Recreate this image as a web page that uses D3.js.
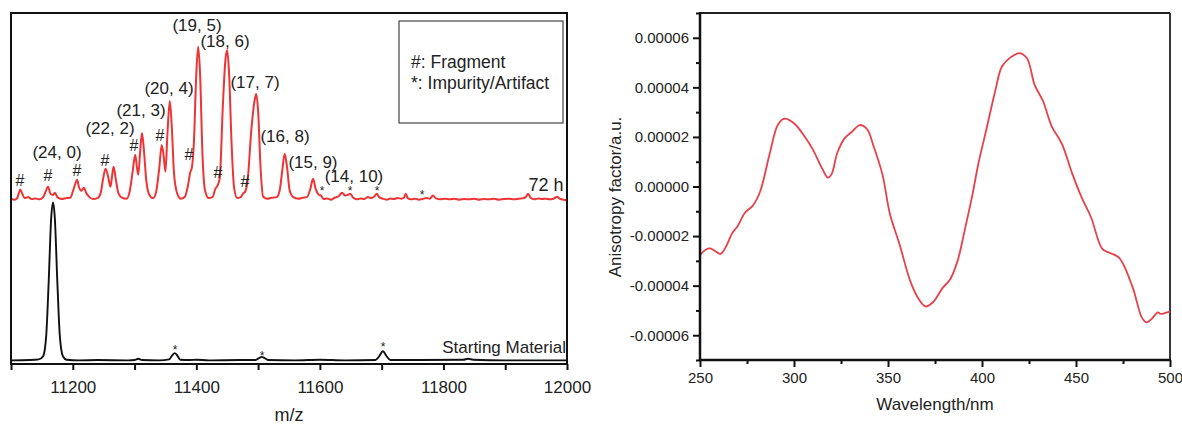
<!DOCTYPE html>
<html>
<head>
<meta charset="utf-8">
<script src="https://cdn.jsdelivr.net/npm/d3@7/dist/d3.min.js"></script>
<style>
  html, body { margin: 0; padding: 0; background: #fff; }
  svg { display: block; font-family: "Liberation Sans", Arial, sans-serif; }
</style>
</head>
<body>
<svg id="chart" width="1182" height="426"></svg>
<script>
// ---------------- DATA ----------------
// Left panel: mass spectra (m/z, relative intensity)
const mzMajorTicks = [11200, 11400, 11600, 11800, 12000];
const mzMinorTicks = [11100, 11300, 11500, 11700, 11900];

// 72 h spectrum (intensity above its own baseline)
const spectrum72h = [
  [11100,0.3],[11106,0.0],[11110,0.5],[11113,2.2],[11115,3.2],[11118,2.0],[11122,0.5],[11128,0.8],[11133,0.2],
  [11140,0.4],[11146,0.1],[11152,0.8],[11156,2.5],[11160,4.1],[11164,1.8],[11168,1.5],[11171,2.2],[11175,0.8],
  [11182,0.2],[11190,0.5],[11196,0.6],[11200,2.5],[11204,5.0],[11207,6.3],[11210,4.0],[11214,2.8],[11218,3.8],
  [11222,2.0],[11227,0.8],[11233,0.2],[11240,0.5],[11245,2.0],[11249,6.5],[11253,9.8],[11257,7.5],[11261,4.1],
  [11263,6.5],[11266,10.4],[11270,6.0],[11274,2.0],[11280,0.6],[11287,0.3],[11292,2.5],[11297,9.0],[11301,14.2],
  [11304,10.0],[11306,7.9],[11309,15.0],[11312,21.1],[11315,16.0],[11319,6.0],[11324,1.5],[11330,0.5],[11335,2.5],
  [11340,10.0],[11344,17.3],[11347,14.0],[11350,8.8],[11353,20.0],[11357,31.2],[11360,24.0],[11364,8.0],[11369,2.0],
  [11375,0.3],[11381,0.8],[11386,4.0],[11390,8.5],[11393,10.4],[11396,18.0],[11400,40.0],[11403,48.3],[11406,40.0],
  [11410,14.0],[11414,3.0],[11420,0.5],[11426,0.8],[11431,3.5],[11435,4.7],[11438,7.0],[11443,30.0],[11447,44.0],
  [11450,47.3],[11453,40.0],[11457,18.0],[11461,4.0],[11466,0.5],[11472,0.8],[11476,2.0],[11479,2.5],[11483,6.0],
  [11489,22.0],[11494,31.0],[11497,33.4],[11500,28.0],[11504,10.0],[11508,1.0],[11515,0.3],[11522,0.6],[11530,0.8],
  [11535,3.0],[11539,9.0],[11543,14.5],[11547,10.0],[11551,3.0],[11557,0.8],[11565,0.3],[11572,0.6],[11579,0.8],
  [11584,3.0],[11589,6.6],[11593,3.5],[11598,1.6],[11602,1.2],[11606,0.2],[11612,0.4],[11618,0.0],[11624,0.6],
  [11630,1.0],[11636,2.2],[11641,1.3],[11645,1.5],[11649,1.9],[11654,0.6],[11660,0.1],[11666,0.4],[11672,0.2],
  [11678,0.8],[11683,0.5],[11688,1.0],[11692,1.9],[11696,0.8],[11702,0.3],[11708,0.0],[11714,0.4],[11720,0.2],
  [11726,0.5],[11732,0.3],[11736,0.6],[11739,1.9],[11742,0.5],[11748,0.1],[11754,0.3],[11760,0.0],[11766,0.2],
  [11772,0.5],[11778,0.3],[11783,1.3],[11788,0.4],[11795,0.1],[11802,0.3],[11810,0.1],[11818,0.3],[11826,0.0],
  [11834,0.2],[11842,0.1],[11850,0.3],[11858,0.0],[11866,0.2],[11874,0.1],[11882,0.3],[11890,0.0],[11898,0.2],
  [11906,0.3],[11914,0.1],[11922,0.3],[11928,0.4],[11934,1.0],[11937,1.9],[11941,0.6],[11947,0.1],[11954,0.4],
  [11960,0.2],[11966,0.3],[11972,0.1],[11978,0.3],[11984,0.9],[11988,0.3],[11994,0.0],[12000,-0.2]
];
const offset72h = 51;

// Starting material spectrum
const spectrumStart = [
  [11100,0.2],[11130,0.3],[11145,0.5],[11152,1.5],[11157,8],[11161,25],[11165,45],[11168,50.1],[11171,45],
  [11175,25],[11179,8],[11184,1.5],[11190,0.4],[11210,0.2],[11240,0.3],[11290,0.2],[11300,0.3],[11306,0.7],
  [11312,0.3],[11340,0.2],[11356,0.5],[11361,1.8],[11365,2.5],[11369,1.8],[11374,0.4],[11390,0.3],[11400,0.4],
  [11420,0.2],[11470,0.3],[11496,0.3],[11502,1.0],[11506,1.3],[11510,1.0],[11516,0.3],[11560,0.2],[11600,0.4],
  [11640,0.2],[11690,0.3],[11696,1.5],[11702,3.1],[11708,1.5],[11714,0.3],[11760,0.3],[11832,0.4],[11840,0.7],
  [11848,0.4],[11900,0.2],[12000,0.2]
];

// Peak annotations (text, m/z, intensity where the label sits)
const peakLabels = [
  ["(24, 0)",11174.5,66.1],["(22, 2)",11260.3,73.7],["(21, 3)",11310.4,79.3],["(20, 4)",11355.8,86.3],
  ["(19, 5)",11401.1,106.2],["(18, 6)",11446.4,101.2],["(17, 7)",11495.0,88.2],["(16, 8)",11543.5,71.1],
  ["(15, 9)",11588.8,62.9],["(14, 10)",11655.2,58.6]
];
const fragmentMarks = [
  [11114.6,57.2],[11159.9,58.8],[11206.8,60.4],[11252.2,63.5],[11299.1,68.3],[11341.2,71.4],
  [11388.1,65.4],[11435.1,59.7],[11478.8,56.9]
];
const impurityMarks = [
  [11603.4,54.7],[11648.7,54.6],[11692.4,54.6],[11765.3,53.4],
  [11365.5,4.4],[11506.3,2.5],[11702.2,5.4]
];
const legendLines = ["#: Fragment", "*: Impurity/Artifact"];

// Right panel: anisotropy factor vs wavelength
const wlMajorTicks = [250, 300, 350, 400, 450, 500];
const wlMinorTicks = [275, 325, 375, 425, 475];
const gMajorTicks = [-6e-5, -4e-5, -2e-5, 0, 2e-5, 4e-5, 6e-5];
const gMinorTicks = [-7e-5, -5e-5, -3e-5, -1e-5, 1e-5, 3e-5, 5e-5, 7e-5];
const wavelength = [250,253,255.5,258,261,264,267,270,274,278,282,287,291.5,295,300,306,310,315,318,320,323,327,331,335,339,342,347,351,356,362,366,370,374,379,383,387,391,395,398,402.5,407,410.6,415,420,424,428,432.5,437,442.5,448,453,458,464,468,473,480,485,487.5,490,493.5,495,497.5,500];
const anisotropy = [-2.76e-5,-2.55e-5,-2.5e-5,-2.6e-5,-2.72e-5,-2.4e-5,-1.9e-5,-1.6e-5,-1.05e-5,-0.78e-5,-0.2e-5,1.3e-5,2.5e-5,2.74e-5,2.55e-5,1.98e-5,1.5e-5,0.72e-5,0.36e-5,0.5e-5,1.35e-5,1.95e-5,2.22e-5,2.48e-5,2.3e-5,1.7e-5,0.5e-5,-1.1e-5,-2.3e-5,-3.85e-5,-4.5e-5,-4.84e-5,-4.66e-5,-4.1e-5,-3.75e-5,-3.0e-5,-1.7e-5,-0.3e-5,0.9e-5,2.36e-5,3.84e-5,4.84e-5,5.2e-5,5.38e-5,5.16e-5,4.1e-5,3.44e-5,2.44e-5,1.72e-5,0.52e-5,-0.44e-5,-1.24e-5,-2.52e-5,-2.68e-5,-2.88e-5,-4.04e-5,-5.28e-5,-5.48e-5,-5.36e-5,-5.08e-5,-5.14e-5,-5.1e-5,-5.04e-5];

// ---------------- DRAW ----------------
const svg = d3.select("#chart");
const FONT = '"Liberation Sans", Arial, sans-serif';

// ===== Left panel =====
const xL = d3.scaleLinear().domain([11100, 12000]).range([11, 567]);
const yL = d3.scaleLinear().domain([0, 110]).range([361, 13]);
const left = svg.append("g");

const lineRed = d3.line().x(d => xL(d[0])).y(d => yL(d[1] + offset72h)).curve(d3.curveMonotoneX);
const lineBlack = d3.line().x(d => xL(d[0])).y(d => yL(d[1])).curve(d3.curveMonotoneX);

left.append("path").datum(spectrumStart).attr("d", lineBlack)
  .attr("fill", "none").attr("stroke", "#111").attr("stroke-width", 1.9);
left.append("path").datum(spectrum72h).attr("d", lineRed)
  .attr("fill", "none").attr("stroke", "#ee3434").attr("stroke-width", 2).attr("stroke-linejoin", "round");

// axis ticks
const axL = left.append("g").attr("transform", "translate(0,364)")
  .call(d3.axisBottom(xL).tickValues(mzMajorTicks).tickSize(6).tickPadding(11).tickFormat(d3.format("d")));
axL.select(".domain").remove();
axL.selectAll("line").attr("stroke", "#111").attr("stroke-width", 2);
axL.selectAll("text").attr("font-size", 17).attr("font-family", FONT).attr("fill", "#222");
const axLm = left.append("g").attr("transform", "translate(0,364)")
  .call(d3.axisBottom(xL).tickValues(mzMinorTicks).tickSize(6).tickFormat(""));
axLm.select(".domain").remove();
axLm.selectAll("line").attr("stroke", "#111").attr("stroke-width", 2);

// frame
left.append("rect").attr("x", xL(11100)).attr("y", 13)
  .attr("width", xL(12000) - xL(11100)).attr("height", 364 - 13)
  .attr("fill", "none").attr("stroke", "#111").attr("stroke-width", 2);

// labels
left.selectAll("text.peak").data(peakLabels).enter().append("text")
  .attr("x", d => xL(d[1])).attr("y", d => yL(d[2])).attr("dy", "0.35em")
  .attr("text-anchor", "middle").attr("font-size", 17).attr("fill", "#222").text(d => d[0]);
left.selectAll("text.frag").data(fragmentMarks).enter().append("text")
  .attr("x", d => xL(d[0])).attr("y", d => yL(d[1])).attr("dy", "0.36em")
  .attr("text-anchor", "middle").attr("font-size", 16).attr("fill", "#222").text("#");
left.selectAll("text.imp").data(impurityMarks).enter().append("text")
  .attr("x", d => xL(d[0])).attr("y", d => yL(d[1])).attr("dy", "0.6em")
  .attr("text-anchor", "middle").attr("font-size", 12).attr("fill", "#222").text("*");

left.append("text").attr("x", xL(11966)).attr("y", yL(55.6)).attr("dy", "0.35em")
  .attr("text-anchor", "middle").attr("font-size", 18).attr("fill", "#222").text("72 h");
left.append("text").attr("x", 566).attr("y", yL(4.4)).attr("dy", "0.35em")
  .attr("text-anchor", "end").attr("font-size", 17).attr("fill", "#222").text("Starting Material");

left.append("text").attr("x", 289).attr("y", 415).attr("dy", "0.35em")
  .attr("text-anchor", "middle").attr("font-size", 18).attr("fill", "#222").text("m/z");

// legend
left.append("rect").attr("x", 399).attr("y", 21).attr("width", 164).attr("height", 102)
  .attr("fill", "#fff").attr("stroke", "#444").attr("stroke-width", 1.2);
left.selectAll("text.leg").data(legendLines).enter().append("text")
  .attr("x", 411).attr("y", (d, i) => 62 + i * 21).attr("dy", "0.35em")
  .attr("font-size", 17.5).attr("fill", "#222").text(d => d);

// ===== Right panel =====
const xR = d3.scaleLinear().domain([250, 500]).range([700, 1170]);
const yR = d3.scaleLinear().domain([-7e-5, 7e-5]).range([360, 13]);
const right = svg.append("g");

// top & right borders
right.append("line").attr("x1", 700).attr("x2", 1170).attr("y1", 13).attr("y2", 13)
  .attr("stroke", "#222").attr("stroke-width", 1.8);
right.append("line").attr("x1", 1170).attr("x2", 1170).attr("y1", 13).attr("y2", 360)
  .attr("stroke", "#222").attr("stroke-width", 1.8);

const lineR = d3.line().x(d => xR(d[0])).y(d => yR(d[1])).curve(d3.curveCatmullRom.alpha(0.5));
right.append("path").datum(wavelength.map((w, i) => [w, anisotropy[i]])).attr("d", lineR)
  .attr("fill", "none").attr("stroke", "#e8414a").attr("stroke-width", 1.8);

const fmt = d => (Math.abs(d) < 1e-12 ? 0 : d).toFixed(5);
const axY = right.append("g").attr("transform", "translate(700,0)")
  .call(d3.axisLeft(yR).tickValues(gMajorTicks).tickSize(7).tickPadding(4).tickFormat(fmt));
axY.select(".domain").remove();
axY.selectAll("line").attr("stroke", "#111").attr("stroke-width", 2);
axY.selectAll("text").attr("font-size", 15).attr("font-family", FONT).attr("fill", "#222");
const axYm = right.append("g").attr("transform", "translate(700,0)")
  .call(d3.axisLeft(yR).tickValues(gMinorTicks).tickSize(4).tickFormat(""));
axYm.select(".domain").remove();
axYm.selectAll("line").attr("stroke", "#111").attr("stroke-width", 2);

const axX = right.append("g").attr("transform", "translate(0,360)")
  .call(d3.axisBottom(xR).tickValues(wlMajorTicks).tickSize(7).tickPadding(5).tickFormat(d3.format("d")));
axX.select(".domain").remove();
axX.selectAll("line").attr("stroke", "#111").attr("stroke-width", 2);
axX.selectAll("text").attr("font-size", 15).attr("font-family", FONT).attr("fill", "#222");
const axXm = right.append("g").attr("transform", "translate(0,360)")
  .call(d3.axisBottom(xR).tickValues(wlMinorTicks).tickSize(4).tickFormat(""));
axXm.select(".domain").remove();
axXm.selectAll("line").attr("stroke", "#111").attr("stroke-width", 2);

// axis lines
right.append("line").attr("x1", 700).attr("x2", 700).attr("y1", 12).attr("y2", 361)
  .attr("stroke", "#111").attr("stroke-width", 2.5);
right.append("line").attr("x1", 699).attr("x2", 1171).attr("y1", 360).attr("y2", 360)
  .attr("stroke", "#111").attr("stroke-width", 2.5);

right.append("text").attr("x", 935).attr("y", 404).attr("dy", "0.35em")
  .attr("text-anchor", "middle").attr("font-size", 17).attr("fill", "#222").text("Wavelength/nm");
right.append("text").attr("transform", "translate(615,197) rotate(-90)").attr("dy", "0.35em")
  .attr("text-anchor", "middle").attr("font-size", 17).attr("fill", "#222").text("Anisotropy factor/a.u.");
</script>
</body>
</html>
